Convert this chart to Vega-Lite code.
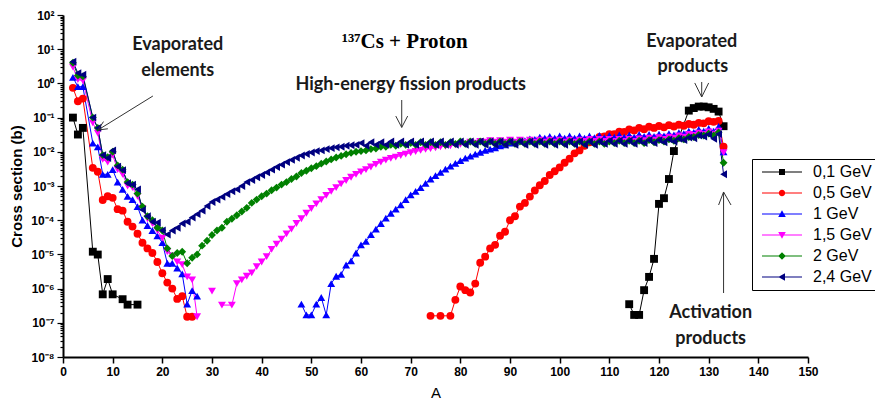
{
"$schema": "https://vega.github.io/schema/vega-lite/v6.json",
"width": 745, "height": 342,
"autosize": {"type": "none"},
"padding": {"left": 63, "top": 15, "right": 67, "bottom": 54},
"background": "white",
"config": {"view": {"stroke": null}, "font": "Liberation Sans"},
"resolve": {"scale": {"shape": "independent"}, "legend": {"color": "independent", "shape": "independent"}},
"datasets": {
"pts": [
{"s":"0,1 GeV","A":2,"v":0.1},{"s":"0,1 GeV","A":3,"v":0.032},{"s":"0,1 GeV","A":4,"v":0.05},{"s":"0,1 GeV","A":6,"v":1.2e-5},{"s":"0,1 GeV","A":7,"v":9.9e-6},{"s":"0,1 GeV","A":8,"v":6.8e-7},{"s":"0,1 GeV","A":9,"v":1.9e-6},{"s":"0,1 GeV","A":10,"v":6.8e-7},{"s":"0,1 GeV","A":12,"v":4.9e-7},{"s":"0,1 GeV","A":13,"v":3.4e-7},{"s":"0,1 GeV","A":15,"v":3.4e-7},{"s":"0,1 GeV","A":16,"v":null},
{"s":"0,1 GeV","A":114,"v":3.5e-7},{"s":"0,1 GeV","A":115,"v":1.7e-7},{"s":"0,1 GeV","A":116,"v":1.7e-7},{"s":"0,1 GeV","A":117,"v":9e-7},{"s":"0,1 GeV","A":118,"v":2.2e-6},{"s":"0,1 GeV","A":119,"v":7.4e-6},{"s":"0,1 GeV","A":120,"v":3e-4},{"s":"0,1 GeV","A":121,"v":4.4e-4},{"s":"0,1 GeV","A":122,"v":1.6e-3},{"s":"0,1 GeV","A":123,"v":0.0105},{"s":"0,1 GeV","A":126,"v":0.16},{"s":"0,1 GeV","A":127,"v":0.19},{"s":"0,1 GeV","A":128,"v":0.21},{"s":"0,1 GeV","A":129,"v":0.21},{"s":"0,1 GeV","A":130,"v":0.2},{"s":"0,1 GeV","A":131,"v":0.18},{"s":"0,1 GeV","A":132,"v":0.15},{"s":"0,1 GeV","A":133,"v":0.056},

{"s":"0,5 GeV","A":2,"v":0.74},{"s":"0,5 GeV","A":3,"v":0.3},{"s":"0,5 GeV","A":4,"v":0.36},{"s":"0,5 GeV","A":6,"v":0.0034},{"s":"0,5 GeV","A":7,"v":0.0026},{"s":"0,5 GeV","A":8,"v":0.00039},{"s":"0,5 GeV","A":9,"v":0.0005},{"s":"0,5 GeV","A":10,"v":0.00045},{"s":"0,5 GeV","A":11,"v":0.00021},{"s":"0,5 GeV","A":12,"v":0.00019},{"s":"0,5 GeV","A":13,"v":0.00009},{"s":"0,5 GeV","A":14,"v":0.000065},{"s":"0,5 GeV","A":15,"v":0.00004},{"s":"0,5 GeV","A":16,"v":0.000022},{"s":"0,5 GeV","A":17,"v":0.000015},{"s":"0,5 GeV","A":18,"v":0.000011},{"s":"0,5 GeV","A":19,"v":0.000006},{"s":"0,5 GeV","A":20,"v":0.0000028},{"s":"0,5 GeV","A":21,"v":0.0000015},{"s":"0,5 GeV","A":22,"v":0.000001},{"s":"0,5 GeV","A":23,"v":0.0000005},{"s":"0,5 GeV","A":24,"v":0.0000006},{"s":"0,5 GeV","A":25,"v":0.00000015},{"s":"0,5 GeV","A":26,"v":0.00000015},{"s":"0,5 GeV","A":27,"v":null},
{"s":"0,5 GeV","A":74,"v":1.6e-7},{"s":"0,5 GeV","A":76,"v":1.6e-7},{"s":"0,5 GeV","A":78,"v":1.6e-7},{"s":"0,5 GeV","A":79,"v":4.7e-7},{"s":"0,5 GeV","A":80,"v":1.15e-6},{"s":"0,5 GeV","A":81,"v":9e-7},{"s":"0,5 GeV","A":82,"v":7.7e-7},{"s":"0,5 GeV","A":83,"v":1.4e-6},{"s":"0,5 GeV","A":84,"v":5.7e-6},{"s":"0,5 GeV","A":85,"v":8.6e-6},{"s":"0,5 GeV","A":86,"v":1.5e-5},{"s":"0,5 GeV","A":87,"v":1.9e-5},{"s":"0,5 GeV","A":88,"v":3.5e-5},{"s":"0,5 GeV","A":89,"v":4.6e-5},{"s":"0,5 GeV","A":90,"v":1e-4},{"s":"0,5 GeV","A":91,"v":1.3e-4},{"s":"0,5 GeV","A":92,"v":2.5e-4},{"s":"0,5 GeV","A":93,"v":3.2e-4},{"s":"0,5 GeV","A":94,"v":4.9e-4},{"s":"0,5 GeV","A":95,"v":7.4e-4},{"s":"0,5 GeV","A":96,"v":1.05e-3},{"s":"0,5 GeV","A":97,"v":1.4e-3},{"s":"0,5 GeV","A":98,"v":2.1e-3},{"s":"0,5 GeV","A":99,"v":2.7e-3},{"s":"0,5 GeV","A":100,"v":3.5e-3},{"s":"0,5 GeV","A":101,"v":4.8e-3},{"s":"0,5 GeV","A":102,"v":6.3e-3},{"s":"0,5 GeV","A":103,"v":0.009},{"s":"0,5 GeV","A":104,"v":0.011},{"s":"0,5 GeV","A":105,"v":0.015},{"s":"0,5 GeV","A":106,"v":0.019},{"s":"0,5 GeV","A":107,"v":0.022},{"s":"0,5 GeV","A":108,"v":0.027},{"s":"0,5 GeV","A":109,"v":0.028},{"s":"0,5 GeV","A":110,"v":0.033},{"s":"0,5 GeV","A":111,"v":0.033},{"s":"0,5 GeV","A":112,"v":0.039},{"s":"0,5 GeV","A":113,"v":0.038},{"s":"0,5 GeV","A":114,"v":0.045},{"s":"0,5 GeV","A":115,"v":0.042},{"s":"0,5 GeV","A":116,"v":0.05},{"s":"0,5 GeV","A":117,"v":0.046},{"s":"0,5 GeV","A":118,"v":0.054},{"s":"0,5 GeV","A":119,"v":0.05},{"s":"0,5 GeV","A":120,"v":0.057},{"s":"0,5 GeV","A":121,"v":0.052},{"s":"0,5 GeV","A":122,"v":0.06},{"s":"0,5 GeV","A":123,"v":0.055},{"s":"0,5 GeV","A":124,"v":0.062},{"s":"0,5 GeV","A":125,"v":0.058},{"s":"0,5 GeV","A":126,"v":0.065},{"s":"0,5 GeV","A":127,"v":0.062},{"s":"0,5 GeV","A":128,"v":0.07},{"s":"0,5 GeV","A":129,"v":0.068},{"s":"0,5 GeV","A":130,"v":0.078},{"s":"0,5 GeV","A":131,"v":0.075},{"s":"0,5 GeV","A":132,"v":0.08},{"s":"0,5 GeV","A":133,"v":0.014},

{"s":"1 GeV","A":2,"v":1.5},{"s":"1 GeV","A":3,"v":0.8},{"s":"1 GeV","A":4,"v":0.8},{"s":"1 GeV","A":6,"v":0.018},{"s":"1 GeV","A":7,"v":0.014},{"s":"1 GeV","A":8,"v":0.0022},{"s":"1 GeV","A":9,"v":0.0022},{"s":"1 GeV","A":10,"v":0.003},{"s":"1 GeV","A":11,"v":0.0013},{"s":"1 GeV","A":12,"v":0.0008},{"s":"1 GeV","A":13,"v":0.0005},{"s":"1 GeV","A":14,"v":0.0004},{"s":"1 GeV","A":15,"v":0.00025},{"s":"1 GeV","A":16,"v":0.0001},{"s":"1 GeV","A":17,"v":0.00007},{"s":"1 GeV","A":18,"v":0.00005},{"s":"1 GeV","A":19,"v":0.000035},{"s":"1 GeV","A":20,"v":0.000022},{"s":"1 GeV","A":21,"v":0.0000055},{"s":"1 GeV","A":22,"v":0.0000055},{"s":"1 GeV","A":23,"v":0.000004},{"s":"1 GeV","A":24,"v":0.0000027},{"s":"1 GeV","A":25,"v":0.00000035},{"s":"1 GeV","A":26,"v":0.00000087},{"s":"1 GeV","A":27,"v":0.0000006},{"s":"1 GeV","A":28,"v":null},
{"s":"1 GeV","A":48,"v":3.5e-7},{"s":"1 GeV","A":49,"v":1.7e-7},{"s":"1 GeV","A":50,"v":1.7e-7},{"s":"1 GeV","A":51,"v":3.5e-7},{"s":"1 GeV","A":52,"v":5.5e-7},{"s":"1 GeV","A":53,"v":1.7e-7},{"s":"1 GeV","A":54,"v":1.4e-6},{"s":"1 GeV","A":55,"v":2.3e-6},{"s":"1 GeV","A":56,"v":2.6e-6},{"s":"1 GeV","A":57,"v":4.9e-6},{"s":"1 GeV","A":58,"v":6.5e-6},{"s":"1 GeV","A":59,"v":1.1e-5},{"s":"1 GeV","A":60,"v":1.9e-5},{"s":"1 GeV","A":61,"v":2.4e-5},{"s":"1 GeV","A":62,"v":3.8e-5},{"s":"1 GeV","A":63,"v":5.5e-5},{"s":"1 GeV","A":64,"v":8e-5},{"s":"1 GeV","A":65,"v":1.15e-4},{"s":"1 GeV","A":66,"v":1.6e-4},{"s":"1 GeV","A":67,"v":2.1e-4},{"s":"1 GeV","A":68,"v":2.8e-4},{"s":"1 GeV","A":69,"v":4e-4},{"s":"1 GeV","A":70,"v":5.5e-4},{"s":"1 GeV","A":71,"v":7e-4},{"s":"1 GeV","A":72,"v":9e-4},{"s":"1 GeV","A":73,"v":1.2e-3},{"s":"1 GeV","A":74,"v":1.6e-3},{"s":"1 GeV","A":75,"v":2e-3},{"s":"1 GeV","A":76,"v":2.5e-3},{"s":"1 GeV","A":77,"v":3.1e-3},{"s":"1 GeV","A":78,"v":3.8e-3},{"s":"1 GeV","A":79,"v":4.6e-3},{"s":"1 GeV","A":80,"v":5.5e-3},{"s":"1 GeV","A":81,"v":6.5e-3},{"s":"1 GeV","A":82,"v":7.5e-3},{"s":"1 GeV","A":83,"v":8.6e-3},{"s":"1 GeV","A":84,"v":0.0097},{"s":"1 GeV","A":85,"v":0.011},{"s":"1 GeV","A":86,"v":0.012},{"s":"1 GeV","A":87,"v":0.013},{"s":"1 GeV","A":88,"v":0.015},{"s":"1 GeV","A":89,"v":0.016},{"s":"1 GeV","A":90,"v":0.018},{"s":"1 GeV","A":91,"v":0.019},{"s":"1 GeV","A":92,"v":0.021},{"s":"1 GeV","A":93,"v":0.021},{"s":"1 GeV","A":94,"v":0.024},{"s":"1 GeV","A":95,"v":0.023},{"s":"1 GeV","A":96,"v":0.027},{"s":"1 GeV","A":97,"v":0.025},{"s":"1 GeV","A":98,"v":0.028},{"s":"1 GeV","A":99,"v":0.025},{"s":"1 GeV","A":100,"v":0.029},{"s":"1 GeV","A":101,"v":0.025},{"s":"1 GeV","A":102,"v":0.029},{"s":"1 GeV","A":103,"v":0.025},{"s":"1 GeV","A":104,"v":0.029},{"s":"1 GeV","A":105,"v":0.025},{"s":"1 GeV","A":106,"v":0.029},{"s":"1 GeV","A":107,"v":0.026},{"s":"1 GeV","A":108,"v":0.03},{"s":"1 GeV","A":109,"v":0.026},{"s":"1 GeV","A":110,"v":0.03},{"s":"1 GeV","A":111,"v":0.027},{"s":"1 GeV","A":112,"v":0.031},{"s":"1 GeV","A":113,"v":0.027},{"s":"1 GeV","A":114,"v":0.031},{"s":"1 GeV","A":115,"v":0.027},{"s":"1 GeV","A":116,"v":0.032},{"s":"1 GeV","A":117,"v":0.028},{"s":"1 GeV","A":118,"v":0.032},{"s":"1 GeV","A":119,"v":0.028},{"s":"1 GeV","A":120,"v":0.033},{"s":"1 GeV","A":121,"v":0.029},{"s":"1 GeV","A":122,"v":0.034},{"s":"1 GeV","A":123,"v":0.031},{"s":"1 GeV","A":124,"v":0.036},{"s":"1 GeV","A":125,"v":0.034},{"s":"1 GeV","A":126,"v":0.04},{"s":"1 GeV","A":127,"v":0.037},{"s":"1 GeV","A":128,"v":0.045},{"s":"1 GeV","A":129,"v":0.04},{"s":"1 GeV","A":130,"v":0.048},{"s":"1 GeV","A":131,"v":0.04},{"s":"1 GeV","A":132,"v":0.055},{"s":"1 GeV","A":133,"v":0.01},

{"s":"1,5 GeV","A":2,"v":3.0},{"s":"1,5 GeV","A":3,"v":1.3},{"s":"1,5 GeV","A":4,"v":1.2},{"s":"1,5 GeV","A":6,"v":0.07},{"s":"1,5 GeV","A":7,"v":0.035},{"s":"1,5 GeV","A":8,"v":0.006},{"s":"1,5 GeV","A":9,"v":0.005},{"s":"1,5 GeV","A":10,"v":0.008},{"s":"1,5 GeV","A":11,"v":0.003},{"s":"1,5 GeV","A":12,"v":0.0022},{"s":"1,5 GeV","A":13,"v":0.001},{"s":"1,5 GeV","A":14,"v":0.0009},{"s":"1,5 GeV","A":15,"v":0.0005},{"s":"1,5 GeV","A":16,"v":0.00022},{"s":"1,5 GeV","A":17,"v":0.00011},{"s":"1,5 GeV","A":18,"v":0.00008},{"s":"1,5 GeV","A":19,"v":0.00005},{"s":"1,5 GeV","A":20,"v":0.00003},{"s":"1,5 GeV","A":21,"v":0.000012},{"s":"1,5 GeV","A":22,"v":0.000009},{"s":"1,5 GeV","A":23,"v":0.000006},{"s":"1,5 GeV","A":24,"v":0.000005},{"s":"1,5 GeV","A":25,"v":0.0000022},{"s":"1,5 GeV","A":26,"v":0.0000018},{"s":"1,5 GeV","A":27,"v":0.00000015},{"s":"1,5 GeV","A":28,"v":null},{"s":"1,5 GeV","A":30,"v":8.4e-7},{"s":"1,5 GeV","A":31,"v":null},{"s":"1,5 GeV","A":32,"v":3.3e-7},{"s":"1,5 GeV","A":34,"v":3.3e-7},{"s":"1,5 GeV","A":35,"v":1.4e-6},{"s":"1,5 GeV","A":36,"v":1.8e-6},{"s":"1,5 GeV","A":37,"v":2.3e-6},{"s":"1,5 GeV","A":38,"v":2.9e-6},{"s":"1,5 GeV","A":39,"v":4.4e-6},{"s":"1,5 GeV","A":40,"v":6e-6},{"s":"1,5 GeV","A":41,"v":8.6e-6},{"s":"1,5 GeV","A":42,"v":1.4e-5},{"s":"1,5 GeV","A":43,"v":2e-5},{"s":"1,5 GeV","A":44,"v":2.8e-5},{"s":"1,5 GeV","A":45,"v":4e-5},{"s":"1,5 GeV","A":46,"v":5.5e-5},{"s":"1,5 GeV","A":47,"v":8e-5},{"s":"1,5 GeV","A":48,"v":1.1e-4},{"s":"1,5 GeV","A":49,"v":1.6e-4},{"s":"1,5 GeV","A":50,"v":2.2e-4},{"s":"1,5 GeV","A":51,"v":3e-4},{"s":"1,5 GeV","A":52,"v":4e-4},{"s":"1,5 GeV","A":53,"v":5.3e-4},{"s":"1,5 GeV","A":54,"v":7e-4},{"s":"1,5 GeV","A":55,"v":9e-4},{"s":"1,5 GeV","A":56,"v":1.15e-3},{"s":"1,5 GeV","A":57,"v":1.45e-3},{"s":"1,5 GeV","A":58,"v":1.8e-3},{"s":"1,5 GeV","A":59,"v":2.2e-3},{"s":"1,5 GeV","A":60,"v":2.6e-3},{"s":"1,5 GeV","A":61,"v":3e-3},{"s":"1,5 GeV","A":62,"v":3.6e-3},{"s":"1,5 GeV","A":63,"v":4.3e-3},{"s":"1,5 GeV","A":64,"v":5e-3},{"s":"1,5 GeV","A":65,"v":5.7e-3},{"s":"1,5 GeV","A":66,"v":6.4e-3},{"s":"1,5 GeV","A":67,"v":7e-3},{"s":"1,5 GeV","A":68,"v":7.8e-3},{"s":"1,5 GeV","A":69,"v":8.6e-3},{"s":"1,5 GeV","A":70,"v":9.4e-3},{"s":"1,5 GeV","A":71,"v":0.0102},{"s":"1,5 GeV","A":72,"v":0.011},{"s":"1,5 GeV","A":73,"v":0.0118},{"s":"1,5 GeV","A":74,"v":0.0125},{"s":"1,5 GeV","A":75,"v":0.013},{"s":"1,5 GeV","A":76,"v":0.014},{"s":"1,5 GeV","A":77,"v":0.0145},{"s":"1,5 GeV","A":78,"v":0.015},{"s":"1,5 GeV","A":79,"v":0.016},{"s":"1,5 GeV","A":80,"v":0.0165},{"s":"1,5 GeV","A":81,"v":0.017},{"s":"1,5 GeV","A":82,"v":0.019},{"s":"1,5 GeV","A":83,"v":0.018},{"s":"1,5 GeV","A":84,"v":0.02},{"s":"1,5 GeV","A":85,"v":0.019},{"s":"1,5 GeV","A":86,"v":0.021},{"s":"1,5 GeV","A":87,"v":0.019},{"s":"1,5 GeV","A":88,"v":0.021},{"s":"1,5 GeV","A":89,"v":0.019},{"s":"1,5 GeV","A":90,"v":0.022},{"s":"1,5 GeV","A":91,"v":0.019},{"s":"1,5 GeV","A":92,"v":0.022},{"s":"1,5 GeV","A":93,"v":0.019},{"s":"1,5 GeV","A":94,"v":0.022},{"s":"1,5 GeV","A":95,"v":0.019},{"s":"1,5 GeV","A":96,"v":0.022},{"s":"1,5 GeV","A":97,"v":0.019},{"s":"1,5 GeV","A":98,"v":0.022},{"s":"1,5 GeV","A":99,"v":0.019},{"s":"1,5 GeV","A":100,"v":0.022},{"s":"1,5 GeV","A":101,"v":0.019},{"s":"1,5 GeV","A":102,"v":0.022},{"s":"1,5 GeV","A":103,"v":0.019},{"s":"1,5 GeV","A":104,"v":0.022},{"s":"1,5 GeV","A":105,"v":0.02},{"s":"1,5 GeV","A":106,"v":0.023},{"s":"1,5 GeV","A":107,"v":0.02},{"s":"1,5 GeV","A":108,"v":0.023},{"s":"1,5 GeV","A":109,"v":0.02},{"s":"1,5 GeV","A":110,"v":0.023},{"s":"1,5 GeV","A":111,"v":0.02},{"s":"1,5 GeV","A":112,"v":0.023},{"s":"1,5 GeV","A":113,"v":0.02},{"s":"1,5 GeV","A":114,"v":0.023},{"s":"1,5 GeV","A":115,"v":0.02},{"s":"1,5 GeV","A":116,"v":0.024},{"s":"1,5 GeV","A":117,"v":0.021},{"s":"1,5 GeV","A":118,"v":0.025},{"s":"1,5 GeV","A":119,"v":0.022},{"s":"1,5 GeV","A":120,"v":0.026},{"s":"1,5 GeV","A":121,"v":0.023},{"s":"1,5 GeV","A":122,"v":0.027},{"s":"1,5 GeV","A":123,"v":0.025},{"s":"1,5 GeV","A":124,"v":0.029},{"s":"1,5 GeV","A":125,"v":0.027},{"s":"1,5 GeV","A":126,"v":0.032},{"s":"1,5 GeV","A":127,"v":0.03},{"s":"1,5 GeV","A":128,"v":0.035},{"s":"1,5 GeV","A":129,"v":0.032},{"s":"1,5 GeV","A":130,"v":0.038},{"s":"1,5 GeV","A":131,"v":0.033},{"s":"1,5 GeV","A":132,"v":0.04},{"s":"1,5 GeV","A":133,"v":0.0095},

{"s":"2 GeV","A":2,"v":4.0},{"s":"2 GeV","A":3,"v":1.7},{"s":"2 GeV","A":4,"v":1.6},{"s":"2 GeV","A":6,"v":0.1},{"s":"2 GeV","A":7,"v":0.05},{"s":"2 GeV","A":8,"v":0.008},{"s":"2 GeV","A":9,"v":0.007},{"s":"2 GeV","A":10,"v":0.01},{"s":"2 GeV","A":11,"v":0.004},{"s":"2 GeV","A":12,"v":0.003},{"s":"2 GeV","A":13,"v":0.0013},{"s":"2 GeV","A":14,"v":0.0011},{"s":"2 GeV","A":15,"v":0.0006},{"s":"2 GeV","A":16,"v":0.00025},{"s":"2 GeV","A":17,"v":0.00013},{"s":"2 GeV","A":18,"v":0.0001},{"s":"2 GeV","A":19,"v":0.00006},{"s":"2 GeV","A":20,"v":0.00005},{"s":"2 GeV","A":21,"v":0.000015},{"s":"2 GeV","A":22,"v":0.000009},{"s":"2 GeV","A":23,"v":0.000011},{"s":"2 GeV","A":24,"v":0.000012},{"s":"2 GeV","A":25,"v":0.0000055},{"s":"2 GeV","A":26,"v":0.000008},{"s":"2 GeV","A":27,"v":0.00001},{"s":"2 GeV","A":28,"v":0.000018},{"s":"2 GeV","A":29,"v":0.000025},{"s":"2 GeV","A":30,"v":0.000037},{"s":"2 GeV","A":31,"v":0.00005},{"s":"2 GeV","A":32,"v":0.00006},{"s":"2 GeV","A":33,"v":0.00009},{"s":"2 GeV","A":34,"v":0.00011},{"s":"2 GeV","A":35,"v":0.00014},{"s":"2 GeV","A":36,"v":0.00018},{"s":"2 GeV","A":37,"v":0.00023},{"s":"2 GeV","A":38,"v":0.00032},{"s":"2 GeV","A":39,"v":0.0004},{"s":"2 GeV","A":40,"v":0.0005},{"s":"2 GeV","A":41,"v":0.0006},{"s":"2 GeV","A":42,"v":0.00075},{"s":"2 GeV","A":43,"v":0.0009},{"s":"2 GeV","A":44,"v":0.0011},{"s":"2 GeV","A":45,"v":0.0013},{"s":"2 GeV","A":46,"v":0.0016},{"s":"2 GeV","A":47,"v":0.0019},{"s":"2 GeV","A":48,"v":0.0024},{"s":"2 GeV","A":49,"v":0.0028},{"s":"2 GeV","A":50,"v":0.0033},{"s":"2 GeV","A":51,"v":0.0038},{"s":"2 GeV","A":52,"v":0.0045},{"s":"2 GeV","A":53,"v":0.0052},{"s":"2 GeV","A":54,"v":0.006},{"s":"2 GeV","A":55,"v":0.0068},{"s":"2 GeV","A":56,"v":0.0076},{"s":"2 GeV","A":57,"v":0.0085},{"s":"2 GeV","A":58,"v":0.0093},{"s":"2 GeV","A":59,"v":0.01},{"s":"2 GeV","A":60,"v":0.0105},{"s":"2 GeV","A":61,"v":0.011},{"s":"2 GeV","A":62,"v":0.012},{"s":"2 GeV","A":63,"v":0.0125},{"s":"2 GeV","A":64,"v":0.014},{"s":"2 GeV","A":65,"v":0.014},{"s":"2 GeV","A":66,"v":0.016},{"s":"2 GeV","A":67,"v":0.015},{"s":"2 GeV","A":68,"v":0.017},{"s":"2 GeV","A":69,"v":0.016},{"s":"2 GeV","A":70,"v":0.018},{"s":"2 GeV","A":71,"v":0.016},{"s":"2 GeV","A":72,"v":0.019},{"s":"2 GeV","A":73,"v":0.016},{"s":"2 GeV","A":74,"v":0.019},{"s":"2 GeV","A":75,"v":0.016},{"s":"2 GeV","A":76,"v":0.019},{"s":"2 GeV","A":77,"v":0.016},{"s":"2 GeV","A":78,"v":0.019},{"s":"2 GeV","A":79,"v":0.017},{"s":"2 GeV","A":80,"v":0.02},{"s":"2 GeV","A":81,"v":0.017},{"s":"2 GeV","A":82,"v":0.02},{"s":"2 GeV","A":83,"v":0.017},{"s":"2 GeV","A":84,"v":0.02},{"s":"2 GeV","A":85,"v":0.017},{"s":"2 GeV","A":86,"v":0.02},{"s":"2 GeV","A":87,"v":0.017},{"s":"2 GeV","A":88,"v":0.02},{"s":"2 GeV","A":89,"v":0.017},{"s":"2 GeV","A":90,"v":0.02},{"s":"2 GeV","A":91,"v":0.017},{"s":"2 GeV","A":92,"v":0.02},{"s":"2 GeV","A":93,"v":0.017},{"s":"2 GeV","A":94,"v":0.02},{"s":"2 GeV","A":95,"v":0.017},{"s":"2 GeV","A":96,"v":0.02},{"s":"2 GeV","A":97,"v":0.017},{"s":"2 GeV","A":98,"v":0.02},{"s":"2 GeV","A":99,"v":0.017},{"s":"2 GeV","A":100,"v":0.02},{"s":"2 GeV","A":101,"v":0.017},{"s":"2 GeV","A":102,"v":0.02},{"s":"2 GeV","A":103,"v":0.017},{"s":"2 GeV","A":104,"v":0.02},{"s":"2 GeV","A":105,"v":0.017},{"s":"2 GeV","A":106,"v":0.02},{"s":"2 GeV","A":107,"v":0.017},{"s":"2 GeV","A":108,"v":0.02},{"s":"2 GeV","A":109,"v":0.017},{"s":"2 GeV","A":110,"v":0.02},{"s":"2 GeV","A":111,"v":0.018},{"s":"2 GeV","A":112,"v":0.021},{"s":"2 GeV","A":113,"v":0.018},{"s":"2 GeV","A":114,"v":0.021},{"s":"2 GeV","A":115,"v":0.018},{"s":"2 GeV","A":116,"v":0.021},{"s":"2 GeV","A":117,"v":0.018},{"s":"2 GeV","A":118,"v":0.022},{"s":"2 GeV","A":119,"v":0.019},{"s":"2 GeV","A":120,"v":0.022},{"s":"2 GeV","A":121,"v":0.02},{"s":"2 GeV","A":122,"v":0.023},{"s":"2 GeV","A":123,"v":0.021},{"s":"2 GeV","A":124,"v":0.025},{"s":"2 GeV","A":125,"v":0.023},{"s":"2 GeV","A":126,"v":0.027},{"s":"2 GeV","A":127,"v":0.027},{"s":"2 GeV","A":128,"v":0.031},{"s":"2 GeV","A":129,"v":0.03},{"s":"2 GeV","A":130,"v":0.034},{"s":"2 GeV","A":131,"v":0.03},{"s":"2 GeV","A":132,"v":0.037},{"s":"2 GeV","A":133,"v":0.0048},

{"s":"2,4 GeV","A":2,"v":4.3},{"s":"2,4 GeV","A":3,"v":2.0},{"s":"2,4 GeV","A":4,"v":1.8},{"s":"2,4 GeV","A":6,"v":0.1},{"s":"2,4 GeV","A":7,"v":0.05},{"s":"2,4 GeV","A":8,"v":0.008},{"s":"2,4 GeV","A":9,"v":0.0066},{"s":"2,4 GeV","A":10,"v":0.011},{"s":"2,4 GeV","A":11,"v":0.0037},{"s":"2,4 GeV","A":12,"v":0.0029},{"s":"2,4 GeV","A":13,"v":0.0012},{"s":"2,4 GeV","A":14,"v":0.0011},{"s":"2,4 GeV","A":15,"v":0.0008},{"s":"2,4 GeV","A":16,"v":0.0002},{"s":"2,4 GeV","A":17,"v":0.00013},{"s":"2,4 GeV","A":18,"v":0.00009},{"s":"2,4 GeV","A":19,"v":0.000085},{"s":"2,4 GeV","A":20,"v":0.00005},{"s":"2,4 GeV","A":21,"v":0.000038},{"s":"2,4 GeV","A":22,"v":0.00005},{"s":"2,4 GeV","A":23,"v":0.00006},{"s":"2,4 GeV","A":24,"v":0.00008},{"s":"2,4 GeV","A":25,"v":0.00009},{"s":"2,4 GeV","A":26,"v":0.00012},{"s":"2,4 GeV","A":27,"v":0.00015},{"s":"2,4 GeV","A":28,"v":0.00019},{"s":"2,4 GeV","A":29,"v":0.00026},{"s":"2,4 GeV","A":30,"v":0.00034},{"s":"2,4 GeV","A":31,"v":0.0004},{"s":"2,4 GeV","A":32,"v":0.00048},{"s":"2,4 GeV","A":33,"v":0.00058},{"s":"2,4 GeV","A":34,"v":0.0007},{"s":"2,4 GeV","A":35,"v":0.0008},{"s":"2,4 GeV","A":36,"v":0.001},{"s":"2,4 GeV","A":37,"v":0.0013},{"s":"2,4 GeV","A":38,"v":0.0015},{"s":"2,4 GeV","A":39,"v":0.0018},{"s":"2,4 GeV","A":40,"v":0.0021},{"s":"2,4 GeV","A":41,"v":0.0025},{"s":"2,4 GeV","A":42,"v":0.003},{"s":"2,4 GeV","A":43,"v":0.0036},{"s":"2,4 GeV","A":44,"v":0.0042},{"s":"2,4 GeV","A":45,"v":0.005},{"s":"2,4 GeV","A":46,"v":0.0058},{"s":"2,4 GeV","A":47,"v":0.0067},{"s":"2,4 GeV","A":48,"v":0.0078},{"s":"2,4 GeV","A":49,"v":0.0086},{"s":"2,4 GeV","A":50,"v":0.0095},{"s":"2,4 GeV","A":51,"v":0.0105},{"s":"2,4 GeV","A":52,"v":0.011},{"s":"2,4 GeV","A":53,"v":0.012},{"s":"2,4 GeV","A":54,"v":0.0128},{"s":"2,4 GeV","A":55,"v":0.0135},{"s":"2,4 GeV","A":56,"v":0.014},{"s":"2,4 GeV","A":57,"v":0.015},{"s":"2,4 GeV","A":58,"v":0.0155},{"s":"2,4 GeV","A":59,"v":0.016},{"s":"2,4 GeV","A":60,"v":0.018},{"s":"2,4 GeV","A":61,"v":0.015},{"s":"2,4 GeV","A":62,"v":0.019},{"s":"2,4 GeV","A":63,"v":0.016},{"s":"2,4 GeV","A":64,"v":0.019},{"s":"2,4 GeV","A":65,"v":0.016},{"s":"2,4 GeV","A":66,"v":0.02},{"s":"2,4 GeV","A":67,"v":0.016},{"s":"2,4 GeV","A":68,"v":0.02},{"s":"2,4 GeV","A":69,"v":0.016},{"s":"2,4 GeV","A":70,"v":0.02},{"s":"2,4 GeV","A":71,"v":0.016},{"s":"2,4 GeV","A":72,"v":0.02},{"s":"2,4 GeV","A":73,"v":0.016},{"s":"2,4 GeV","A":74,"v":0.02},{"s":"2,4 GeV","A":75,"v":0.016},{"s":"2,4 GeV","A":76,"v":0.02},{"s":"2,4 GeV","A":77,"v":0.016},{"s":"2,4 GeV","A":78,"v":0.02},{"s":"2,4 GeV","A":79,"v":0.016},{"s":"2,4 GeV","A":80,"v":0.02},{"s":"2,4 GeV","A":81,"v":0.016},{"s":"2,4 GeV","A":82,"v":0.02},{"s":"2,4 GeV","A":83,"v":0.016},{"s":"2,4 GeV","A":84,"v":0.02},{"s":"2,4 GeV","A":85,"v":0.016},{"s":"2,4 GeV","A":86,"v":0.02},{"s":"2,4 GeV","A":87,"v":0.016},{"s":"2,4 GeV","A":88,"v":0.02},{"s":"2,4 GeV","A":89,"v":0.016},{"s":"2,4 GeV","A":90,"v":0.02},{"s":"2,4 GeV","A":91,"v":0.016},{"s":"2,4 GeV","A":92,"v":0.02},{"s":"2,4 GeV","A":93,"v":0.016},{"s":"2,4 GeV","A":94,"v":0.02},{"s":"2,4 GeV","A":95,"v":0.016},{"s":"2,4 GeV","A":96,"v":0.02},{"s":"2,4 GeV","A":97,"v":0.016},{"s":"2,4 GeV","A":98,"v":0.02},{"s":"2,4 GeV","A":99,"v":0.016},{"s":"2,4 GeV","A":100,"v":0.02},{"s":"2,4 GeV","A":101,"v":0.016},{"s":"2,4 GeV","A":102,"v":0.02},{"s":"2,4 GeV","A":103,"v":0.016},{"s":"2,4 GeV","A":104,"v":0.02},{"s":"2,4 GeV","A":105,"v":0.016},{"s":"2,4 GeV","A":106,"v":0.02},{"s":"2,4 GeV","A":107,"v":0.016},{"s":"2,4 GeV","A":108,"v":0.02},{"s":"2,4 GeV","A":109,"v":0.017},{"s":"2,4 GeV","A":110,"v":0.021},{"s":"2,4 GeV","A":111,"v":0.017},{"s":"2,4 GeV","A":112,"v":0.021},{"s":"2,4 GeV","A":113,"v":0.017},{"s":"2,4 GeV","A":114,"v":0.021},{"s":"2,4 GeV","A":115,"v":0.017},{"s":"2,4 GeV","A":116,"v":0.021},{"s":"2,4 GeV","A":117,"v":0.018},{"s":"2,4 GeV","A":118,"v":0.022},{"s":"2,4 GeV","A":119,"v":0.018},{"s":"2,4 GeV","A":120,"v":0.022},{"s":"2,4 GeV","A":121,"v":0.019},{"s":"2,4 GeV","A":122,"v":0.023},{"s":"2,4 GeV","A":123,"v":0.02},{"s":"2,4 GeV","A":124,"v":0.024},{"s":"2,4 GeV","A":125,"v":0.022},{"s":"2,4 GeV","A":126,"v":0.026},{"s":"2,4 GeV","A":127,"v":0.025},{"s":"2,4 GeV","A":128,"v":0.03},{"s":"2,4 GeV","A":129,"v":0.028},{"s":"2,4 GeV","A":130,"v":0.032},{"s":"2,4 GeV","A":131,"v":0.024},{"s":"2,4 GeV","A":132,"v":0.033},{"s":"2,4 GeV","A":133,"v":0.0022}
],
"arr": [
{"A":18.1,"v":0.428,"A2":7.04,"v2":0.0434},
{"A":7.04,"v":0.0434,"A2":9.03,"v2":0.0471},
{"A":7.04,"v":0.0434,"A2":8.15,"v2":0.0764},
{"A":68.2,"v":0.327,"A2":68.2,"v2":0.0517},
{"A":68.2,"v":0.0517,"A2":67.0,"v2":0.111},
{"A":68.2,"v":0.0517,"A2":69.4,"v2":0.111},
{"A":128.6,"v":1.099,"A2":128.6,"v2":0.4},
{"A":128.6,"v":0.4,"A2":127.2,"v2":1.03},
{"A":128.6,"v":0.4,"A2":130.0,"v2":1.03},
{"A":133.0,"v":7.43e-7,"A2":133.0,"v2":6.68e-4},
{"A":133.0,"v":6.68e-4,"A2":132.0,"v2":2.78e-4},
{"A":133.0,"v":6.68e-4,"A2":134.5,"v2":2.78e-4}
],
"ann": [
{"A":23.1,"v":13.3,"t":"Evaporated"},
{"A":23.1,"v":2.3,"t":"elements"},
{"A":70.0,"v":0.898,"t":"High-energy fission products"},
{"A":126.6,"v":16.2,"t":"Evaporated"},
{"A":126.8,"v":3.02,"t":"products"},
{"A":130.4,"v":1.94e-7,"t":"Activation"},
{"A":130.4,"v":3.36e-8,"t":"products"}
],
"ttl": [
{"A":68.8,"v":16.2,"t":"¹³⁷Cs + Proton"}
]
},
"layer": [
{
"data": {"name": "pts"},
"mark": {"type": "line", "strokeWidth": 1, "invalid": "break-paths-filter-domains"},
"encoding": {
"x": {"field": "A", "type": "quantitative", "scale": {"domain": [0, 150], "nice": false, "zero": false},
"axis": {"title": "A", "titleFont": "Liberation Sans", "titleFontSize": 15, "titleFontWeight": "normal", "titlePadding": 8,
"values": [0,5,10,15,20,25,30,35,40,45,50,55,60,65,70,75,80,85,90,95,100,105,110,115,120,125,130,135,140,145,150],
"labelExpr": "datum.value % 10 == 0 ? datum.label : ''",
"labelFont": "Liberation Sans", "labelFontSize": 12, "labelFontWeight": "bold", "labelColor": "black", "labelPadding": 3, "labelFlush": false,
"tickSize": {"condition": {"test": "datum.value % 10 == 0", "value": 6}, "value": 3},
"tickColor": "black", "tickWidth": 1.5, "domainColor": "black", "domainWidth": 2, "grid": false}},
"y": {"field": "v", "type": "quantitative", "scale": {"type": "log", "domain": [1e-8, 100], "nice": false},
"axis": {"title": "Cross section (b)", "titleFont": "Liberation Sans", "titleFontSize": 15, "titleFontWeight": "bold", "titleColor": "black", "titlePadding": 6,
"values": [1e-8,2e-8,3e-8,4e-8,5e-8,6e-8,7e-8,8e-8,9e-8,1e-7,2e-7,3e-7,4e-7,5e-7,6e-7,7e-7,8e-7,9e-7,1e-6,2e-6,3e-6,4e-6,5e-6,6e-6,7e-6,8e-6,9e-6,1e-5,2e-5,3e-5,4e-5,5e-5,6e-5,7e-5,8e-5,9e-5,1e-4,2e-4,3e-4,4e-4,5e-4,6e-4,7e-4,8e-4,9e-4,1e-3,2e-3,3e-3,4e-3,5e-3,6e-3,7e-3,8e-3,9e-3,1e-2,2e-2,3e-2,4e-2,5e-2,6e-2,7e-2,8e-2,9e-2,0.1,0.2,0.3,0.4,0.5,0.6,0.7,0.8,0.9,1,2,3,4,5,6,7,8,9,10,20,30,40,50,60,70,80,90,100],
"labelExpr": "abs(log(datum.value)/LN10 - round(log(datum.value)/LN10)) < 0.001 ? ['10⁻⁸','10⁻⁷','10⁻⁶','10⁻⁵','10⁻⁴','10⁻³','10⁻²','10⁻¹','10⁰','10¹','10²'][round(log(datum.value)/LN10)+8] : ''",
"labelFont": "Liberation Sans", "labelFontSize": 12, "labelFontWeight": "bold", "labelColor": "black", "labelPadding": 3,
"tickSize": {"condition": {"test": "abs(log(datum.value)/LN10 - round(log(datum.value)/LN10)) < 0.001", "value": 6}, "value": 3},
"tickColor": "black", "tickWidth": 1.2, "domainColor": "black", "domainWidth": 2, "grid": false}},
"color": {"field": "s", "type": "nominal", "scale": {"domain": ["0,1 GeV","0,5 GeV","1 GeV","1,5 GeV","2 GeV","2,4 GeV"], "range": ["#000000","#ff0000","#0000ff","#ff00ff","#008000","#000080"]}, "legend": null}
}
},
{
"data": {"name": "pts"},
"mark": {"type": "point", "filled": true, "size": 62, "opacity": 1},
"encoding": {
"x": {"field": "A", "type": "quantitative"},
"y": {"field": "v", "type": "quantitative"},
"color": {"field": "s", "type": "nominal", "legend": null},
"shape": {"field": "s", "type": "nominal", "legend": null, "scale": {"domain": ["0,1 GeV","0,5 GeV","1 GeV","1,5 GeV","2 GeV","2,4 GeV"], "range": ["square","circle","triangle-up","triangle-down","diamond","triangle-left"]}}
}
},
{
"data": {"name": "pts"},
"transform": [{"filter": "false"}],
"mark": {"type": "point", "filled": true, "size": 1600, "opacity": 1},
"encoding": {
"x": {"field": "A", "type": "quantitative"},
"y": {"field": "v", "type": "quantitative"},
"color": {"field": "s", "type": "nominal",
"legend": {"title": null, "orient": "none", "legendX": 689, "legendY": 144, "strokeColor": "black", "padding": 5, "labelFont": "Liberation Sans", "labelFontSize": 16, "labelColor": "black", "symbolSize": 1600, "clipHeight": 16, "rowPadding": 5, "labelOffset": 11, "symbolOffset": 5, "symbolStrokeWidth": 0}},
"shape": {"field": "s", "type": "nominal",
"scale": {"domain": ["0,1 GeV","0,5 GeV","1 GeV","1,5 GeV","2 GeV","2,4 GeV"], "range": [
"M-1,-0.025H1V0.025H-1Z M-0.15,-0.15H0.15V0.15H-0.15Z",
"M-1,-0.025H1V0.025H-1Z M-0.16,0A0.16,0.16 0 1,1 0.16,0A0.16,0.16 0 1,1 -0.16,0Z",
"M-1,-0.025H1V0.025H-1Z M0,-0.19L0.19,0.15H-0.19Z",
"M-1,-0.025H1V0.025H-1Z M0,0.19L-0.19,-0.15H0.19Z",
"M-1,-0.025H1V0.025H-1Z M0,-0.19L0.19,0L0,0.19L-0.19,0Z",
"M-1,-0.025H1V0.025H-1Z M-0.19,0L0.15,-0.19V0.19Z"]},
"legend": {"title": null, "orient": "none", "legendX": 689, "legendY": 144, "strokeColor": "black", "padding": 5, "labelFont": "Liberation Sans", "labelFontSize": 16, "labelColor": "black", "symbolSize": 1600, "clipHeight": 16, "rowPadding": 5, "labelOffset": 11, "symbolOffset": 5, "symbolStrokeWidth": 0}}
}
},
{
"data": {"name": "arr"},
"mark": {"type": "rule", "color": "#333333", "strokeWidth": 1},
"encoding": {
"x": {"field": "A", "type": "quantitative"},
"x2": {"field": "A2"},
"y": {"field": "v", "type": "quantitative"},
"y2": {"field": "v2"}
}
},
{
"data": {"name": "ann"},
"mark": {"type": "text", "font": "Lato", "fontWeight": "bold", "fontSize": 18, "color": "#1a1a1a", "align": "center", "baseline": "middle"},
"encoding": {
"x": {"field": "A", "type": "quantitative"},
"y": {"field": "v", "type": "quantitative"},
"text": {"field": "t"}
}
},
{
"data": {"name": "ttl"},
"mark": {"type": "text", "font": "Liberation Serif", "fontWeight": "bold", "fontSize": 21, "color": "black", "align": "center", "baseline": "middle"},
"encoding": {
"x": {"field": "A", "type": "quantitative"},
"y": {"field": "v", "type": "quantitative"},
"text": {"field": "t"}
}
}
]
}
